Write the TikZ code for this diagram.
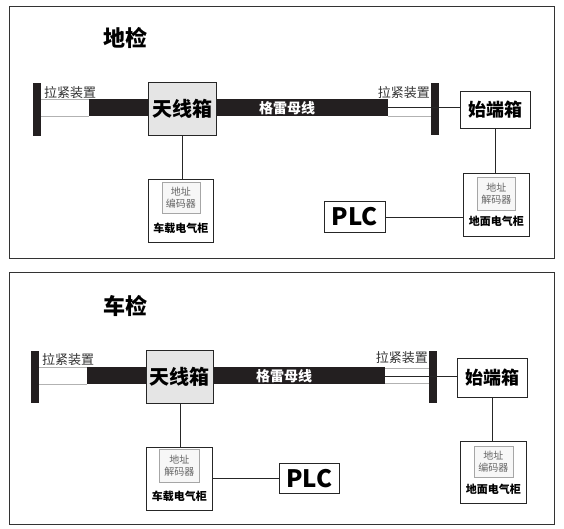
\documentclass[tikz,border=0pt]{standalone}
\usepackage{fontspec}
\newfontfamily\cjk{Noto Sans CJK SC}
\usetikzlibrary{positioning}
\definecolor{barcol}{HTML}{231F20}

\tikzset{
  panel/.style={draw=black!80,line width=0.9pt},
  heading/.style={font=\cjk\bfseries\fontsize{22}{22}\selectfont,inner sep=0pt},
  box/.style={draw=black!85,line width=0.8pt,inner sep=0pt,anchor=north west},
  antbox/.style={box,fill=gray!20,font=\cjk\bfseries\fontsize{20}{20}\selectfont},
  startbox/.style={box,fill=white,font=\cjk\bfseries\fontsize{18}{18}\selectfont},
  plcbox/.style={box,fill=white,font=\cjk\bfseries\fontsize{24}{24}\selectfont},
  cabinet/.style={box,fill=white},
  chip/.style={draw=gray!70,fill=gray!6,text=black!60,inner sep=0pt,
    font=\cjk\fontsize{10}{11.5}\selectfont,align=center,anchor=north},
  cablabel/.style={font=\cjk\bfseries\fontsize{11}{11}\selectfont,inner sep=0pt},
  tbar/.style={fill=barcol,inner sep=0pt,anchor=north west,minimum width=8pt},
  tlabel/.style={font=\cjk\fontsize{13}{13}\selectfont,text=black!80,inner sep=0pt},
  rail/.style={gray!60,line width=0.8pt},
  wire/.style={black!85,line width=0.8pt},
  bustext/.style={font=\cjk\bfseries\fontsize{14}{14}\selectfont,text=white,inner sep=0pt}
}

\begin{document}
\begin{tikzpicture}[x=1pt,y=-1pt]
  \useasboundingbox (0,0) rectangle (564,528);
  %
  % ---- upper panel: 地检
  \draw[panel] (9,6) rectangle (554,258);
  \node[heading] (h1) at (125,38) {地检};
  %
  \draw[rail] (41,99) -- (89,99);
  \draw[rail] (41,116) -- (89,116);
  \fill[barcol] (89,99) rectangle (388,116); % Gray bus
  \node[bustext] (bt1) at (287,108) {格雷母线};
  \draw[rail] (388,116) -- (431,116);
  \coordinate (r1) at (388,107.5);
  %
  \node[tbar,minimum height=53pt] (lt1) at (33,83) {};
  \node[tbar,minimum height=52pt] (rt1) at (431,83) {};
  \node[tlabel,anchor=base west] (ll1) at (44,97) {拉紧装置};
  \node[tlabel,anchor=base east] (rl1) at (430,97.5) {拉紧装置};
  %
  \node[antbox,minimum width=68pt,minimum height=53pt] (ant1) at (148,82) {天线箱};
  \node[startbox,minimum width=70pt,minimum height=37pt] (sb1) at (460,91) {始端箱};
  \node[cabinet,minimum width=65pt,minimum height=63pt] (car1) at (148,179) {};
  \node[chip,minimum width=38pt,minimum height=31pt,below=3pt of car1.north] (cc1) {地址\\编码器};
  \node[cablabel] (cl1) at ([yshift=14pt]car1.south) {车载电气柜};
  \node[cabinet,minimum width=66pt,minimum height=63pt] (gnd1) at (463,173) {};
  \node[chip,minimum width=38pt,minimum height=33pt,below=4pt of gnd1.north] (gc1) {地址\\解码器};
  \node[cablabel] (gl1) at ([yshift=15pt]gnd1.south) {地面电气柜};
  \node[plcbox,minimum width=61pt,minimum height=31pt] (plc1) at (324,201) {PLC};
  %
  \draw[wire] (r1) -- (r1 -| sb1.west);
  \draw[wire] (ant1.south) -- (ant1.south |- car1.north);
  \draw[wire] (sb1.south) -- (sb1.south |- gnd1.north);
  \draw[wire] (plc1.east) -- (plc1.east -| gnd1.west);
  %
  % ---- lower panel: 车检
  \draw[panel] (9,272) rectangle (554,524);
  \node[heading] (h2) at (125,306) {车检};
  %
  \draw[rail] (39,367) -- (87,367);
  \draw[rail] (39,384) -- (87,384);
  \fill[barcol] (87,367) rectangle (385,384); % Gray bus
  \node[bustext] (bt2) at (284,376) {格雷母线};
  \draw[rail] (385,368) -- (429,368);
  \draw[rail] (385,383) -- (429,383);
  \coordinate (r2) at (385,376);
  %
  \node[tbar,minimum height=52pt] (lt2) at (31,351) {};
  \node[tbar,minimum height=52pt] (rt2) at (429,351) {};
  \node[tlabel,anchor=base west] (ll2) at (42,364) {拉紧装置};
  \node[tlabel,anchor=base east] (rl2) at (428,362.5) {拉紧装置};
  %
  \node[antbox,minimum width=67pt,minimum height=53pt] (ant2) at (146,350) {天线箱};
  \node[startbox,minimum width=70pt,minimum height=39pt] (sb2) at (457,358) {始端箱};
  \node[cabinet,minimum width=66pt,minimum height=63pt] (car2) at (146,447) {};
  \node[chip,minimum width=40pt,minimum height=33pt,below=2pt of car2.north] (cc2) {地址\\解码器};
  \node[cablabel] (cl2) at ([yshift=15pt]car2.south) {车载电气柜};
  \node[cabinet,minimum width=66pt,minimum height=62pt] (gnd2) at (460,441) {};
  \node[chip,minimum width=39pt,minimum height=31pt,below=5pt of gnd2.north] (gc2) {地址\\编码器};
  \node[cablabel] (gl2) at ([yshift=14pt]gnd2.south) {地面电气柜};
  \node[plcbox,minimum width=60pt,minimum height=30pt] (plc2) at (279,463) {PLC};
  %
  \draw[wire] (r2) -- (r2 -| sb2.west);
  \draw[wire] (ant2.south) -- (ant2.south |- car2.north);
  \draw[wire] (sb2.south) -- (sb2.south |- gnd2.north);
  \draw[wire] (car2.east |- plc2.west) -- (plc2.west);
\end{tikzpicture}
\end{document}
